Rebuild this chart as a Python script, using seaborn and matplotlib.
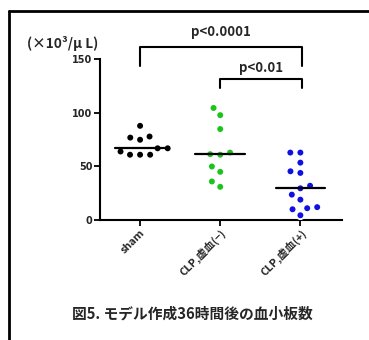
import numpy as np
import pandas as pd
import seaborn as sns
import matplotlib.pyplot as plt
from matplotlib.lines import Line2D

groups = ["sham", "CLP,虚血(−)", "CLP,虚血(+)"]
colors = ["black", "#1bc41b", "#1010e0"]

sham = [88, 77, 75, 78, 67, 67, 64, 61, 61, 61]
clp_minus = [104.7, 98, 85, 63, 61, 61.5, 50, 45, 36, 31]
clp_plus = [63, 63, 53.6, 45.5, 44, 32, 29.6, 23.7, 19, 11, 12, 10, 4.4]

df = pd.DataFrame({
    "group": ["sham"] * len(sham) + [groups[1]] * len(clp_minus) + [groups[2]] * len(clp_plus),
    "value": sham + clp_minus + clp_plus,
})

sns.set_style("white")
plt.rcParams['font.family'] = ['Noto Sans CJK JP', 'DejaVu Sans']

fig = plt.figure(figsize=(3.69, 3.40), dpi=100)
ax = fig.add_axes([0.271, 0.353, 0.656, 0.472])

# white edges give the looser GraphPad-like spacing
sns.swarmplot(data=df, x="group", y="value", hue="group", palette=colors,
              order=groups, size=5.6, edgecolor="white", linewidth=1.3,
              ax=ax, legend=False)

# median lines
for i, vals in enumerate([sham, clp_minus, clp_plus]):
    m = np.median(vals)
    ax.plot([i - 0.31, i + 0.31], [m, m], color="black", lw=1.6, zorder=5)

ax.set_xlim(-0.5, 2.52)
ax.set_ylim(0, 150)
ax.set_yticks([0, 50, 100, 150])
ax.set_xlabel("")
ax.set_ylabel("")
sns.despine(ax=ax)
for s in ["left", "bottom"]:
    ax.spines[s].set_color("black")
    ax.spines[s].set_linewidth(1.5)
ax.tick_params(axis="both", length=4, width=1.3, color="black", pad=1.5)
ax.tick_params(axis="x", bottom=True)
ax.tick_params(axis="y", left=True)
for lab in ax.get_yticklabels():
    lab.set_fontsize(7)
    lab.set_fontweight("bold")
    lab.set_family(["DejaVu Sans"])
ax.set_xticks(range(3))
ax.set_xticklabels(groups, rotation=45, ha="right", rotation_mode="anchor",
                   fontsize=7.8, fontweight="bold")

# significance brackets
def bracket(x1, x2, y, h, text, ty):
    ax.plot([x1, x1, x2, x2], [y - h, y, y, y - h], color="black", lw=1.5, clip_on=False)
    ax.text((x1 + x2) / 2, ty, text, ha="center", va="center", fontsize=9.5,
            fontweight="bold", clip_on=False)

bracket(0, 2.02, 161.5, 18, "p<0.0001", 176)
bracket(1, 2.02, 131.5, 8, "p<0.01", 142)

fig.text(0.074, 0.873, "(×10³/μ L)", fontsize=9.8, fontweight="bold", va="center", ha="left")

fig.text(0.521, 0.079, "図5. モデル作成36時間後の血小板数", fontsize=10.6,
         fontweight="bold", ha="center", va="center")

# frame lines
fig.add_artist(Line2D([0.025, 0.025], [0, 0.968], color="black", lw=2))
fig.add_artist(Line2D([0.025, 1.0], [0.968, 0.968], color="black", lw=2))

fig.savefig("out.png", dpi=100)
